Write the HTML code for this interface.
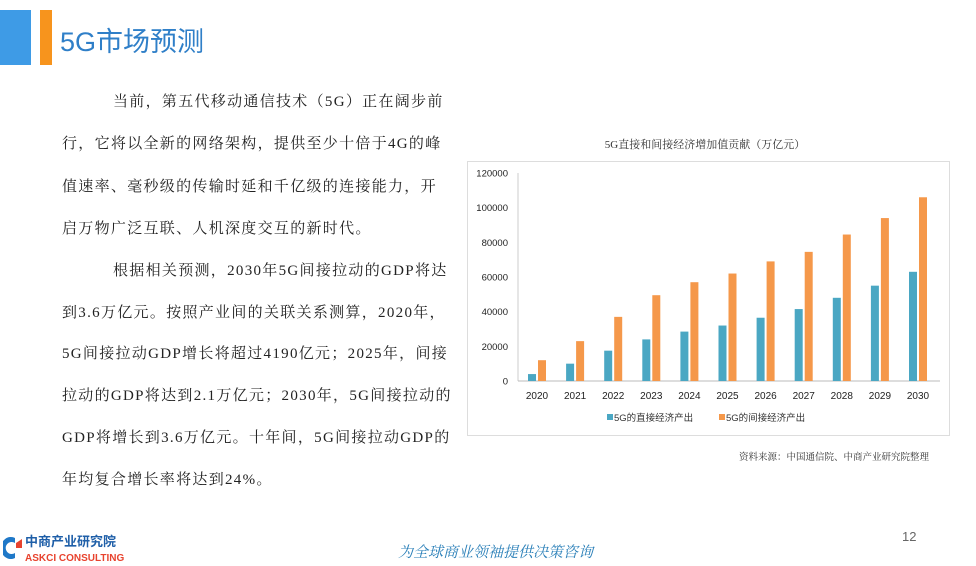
<!DOCTYPE html>
<html><head><meta charset="utf-8">
<style>
body{margin:0;width:976px;height:563px;background:#fff;position:relative;overflow:hidden;font-family:"Liberation Serif","Noto Serif CJK SC",serif;}
.abs{position:absolute;}
.tl{position:absolute;left:62px;font-size:15px;color:#222;white-space:nowrap;line-height:20px;letter-spacing:1.3px;}
</style></head><body>
<div class="abs" style="left:0;top:10px;width:31px;height:55px;background:#3e9be6"></div>
<div class="abs" style="left:40px;top:10px;width:12px;height:55px;background:#f7941d"></div>
<div class="abs" style="left:60px;top:20px;font-size:27px;color:#2f7fc8;font-family:'Liberation Sans','Noto Sans CJK SC',sans-serif;">5G市场预测</div>

<div>
<div class="tl" style="top:92px;left:113px">当前，第五代移动通信技术（5G）正在阔步前</div>
<div class="tl" style="top:134px">行，它将以全新的网络架构，提供至少十倍于4G的峰</div>
<div class="tl" style="top:177px">值速率、毫秒级的传输时延和千亿级的连接能力，开</div>
<div class="tl" style="top:219px">启万物广泛互联、人机深度交互的新时代。</div>
<div class="tl" style="top:261px;left:113px">根据相关预测，2030年5G间接拉动的GDP将达</div>
<div class="tl" style="top:303px">到3.6万亿元。按照产业间的关联关系测算，2020年，</div>
<div class="tl" style="top:344px">5G间接拉动GDP增长将超过4190亿元；2025年，间接</div>
<div class="tl" style="top:386px">拉动的GDP将达到2.1万亿元；2030年，5G间接拉动的</div>
<div class="tl" style="top:428px">GDP将增长到3.6万亿元。十年间，5G间接拉动GDP的</div>
<div class="tl" style="top:470px">年均复合增长率将达到24%。</div>
</div>

<div class="abs" style="left:560px;top:136px;width:290px;text-align:center;font-size:11px;color:#333;">5G直接和间接经济增加值贡献（万亿元）</div>
<div class="abs" style="left:467px;top:161px;width:483px;height:275px;border:1px solid #ddd;box-sizing:border-box"></div>
<svg class="abs" style="left:0;top:0" width="976" height="563">
<g id="g"></g></svg>

<div class="abs" style="left:739px;top:449px;font-size:9.5px;color:#333;">资料来源：中国通信院、中商产业研究院整理</div>

<div class="abs" style="left:3px;top:536px;width:20px;height:24px;">
<svg width="20" height="24"><path d="M12 2 A10 11 0 1 0 12 22 L12 17 A6 6 0 1 1 12 7Z" fill="#1f78c8"/><path d="M13 7 L19 3 L19 12 L13 12Z" fill="#e8432e"/></svg></div>
<div class="abs" style="left:25px;top:534px;font-size:13px;font-weight:bold;color:#1f5fa8;font-family:'Liberation Sans','Noto Sans CJK SC',sans-serif;line-height:15px">中商产业研究院<br><span style="font-size:10px;color:#e8432e">ASKCI CONSULTING</span></div>
<div class="abs" style="left:398px;top:541px;font-size:15px;font-style:italic;color:#2a7fb8;">为全球商业领袖提供决策咨询</div>
<div class="abs" style="left:902px;top:529px;font-size:13px;color:#666;font-family:'Liberation Sans',sans-serif">12</div>

<script>
const categories=["2020","2021","2022","2023","2024","2025","2026","2027","2028","2029","2030"];
const directValues=[4000,10000,17500,24000,28500,32000,36500,41500,48000,55000,63000];
const indirectValues=[12000,23000,37000,49500,57000,62000,69000,74500,84500,94000,106000];
const yTicks=[0,20000,40000,60000,80000,100000,120000];
const legendLabels=["5G的直接经济产出","5G的间接经济产出"];
const NS="http://www.w3.org/2000/svg";
const g=document.getElementById('g');
const y=v=>381-v/120000*208;
const x=i=>537+i*38.1;
function mk(t,a){const e=document.createElementNS(NS,t);for(const k in a)e.setAttribute(k,a[k]);g.appendChild(e);return e;}
const ax=mk('line',{x1:518,y1:173,x2:518,y2:381,stroke:'#ccc'});


const bx=mk('line',{x1:518,y1:381,x2:940,y2:381,stroke:'#bbb'});


yTicks.forEach(v=>{const t=mk('text',{x:508,y:y(v)+3.5,'text-anchor':'end','font-size':9.5,fill:'#222','font-family':'Liberation Sans,sans-serif'});t.textContent=v;

});
categories.forEach((c,i)=>{
const b1=mk('rect',{x:x(i)-9,y:y(directValues[i]),width:8,height:381-y(directValues[i]),fill:'#4aa7c3'});


const b2=mk('rect',{x:x(i)+1,y:y(indirectValues[i]),width:8,height:381-y(indirectValues[i]),fill:'#f5984a'});


const t=mk('text',{x:x(i),y:399,'text-anchor':'middle','font-size':10,fill:'#222','font-family':'Liberation Sans,sans-serif'});t.textContent=c;


});
[['#4aa7c3',607],['#f5984a',719]].forEach((p,i)=>{
const r=mk('rect',{x:p[1],y:414,width:6,height:6,fill:p[0]});


const t=mk('text',{x:p[1]+7,y:421,'font-size':9.5,fill:'#333','font-family':'Liberation Sans,Noto Sans CJK SC,sans-serif'});t.textContent=legendLabels[i];


});
</script>
</body></html>
